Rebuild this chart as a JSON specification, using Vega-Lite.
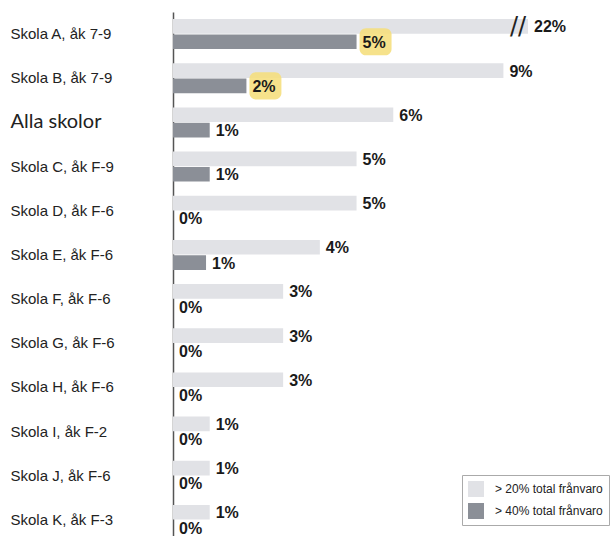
{
  "$schema": "https://vega.github.io/schema/vega-lite/v6.json",
  "autosize": "none",
  "width": 355,
  "height": 530,
  "padding": {"left": 173, "top": 12, "right": 82, "bottom": 0},
  "background": "white",
  "config": {"view": {"stroke": null}},
  "data": {
    "values": [
      {"skola": "Skola A, åk 7-9", "serie": "> 20% total frånvaro", "andel": 0.22},
      {"skola": "Skola A, åk 7-9", "serie": "> 40% total frånvaro", "andel": 0.05, "markerad": true},
      {"skola": "Skola B, åk 7-9", "serie": "> 20% total frånvaro", "andel": 0.09},
      {"skola": "Skola B, åk 7-9", "serie": "> 40% total frånvaro", "andel": 0.02, "markerad": true},
      {"skola": "Alla skolor", "serie": "> 20% total frånvaro", "andel": 0.06},
      {"skola": "Alla skolor", "serie": "> 40% total frånvaro", "andel": 0.01},
      {"skola": "Skola C, åk F-9", "serie": "> 20% total frånvaro", "andel": 0.05},
      {"skola": "Skola C, åk F-9", "serie": "> 40% total frånvaro", "andel": 0.01},
      {"skola": "Skola D, åk F-6", "serie": "> 20% total frånvaro", "andel": 0.05},
      {"skola": "Skola D, åk F-6", "serie": "> 40% total frånvaro", "andel": 0.0},
      {"skola": "Skola E, åk F-6", "serie": "> 20% total frånvaro", "andel": 0.04},
      {"skola": "Skola E, åk F-6", "serie": "> 40% total frånvaro", "andel": 0.009},
      {"skola": "Skola F, åk F-6", "serie": "> 20% total frånvaro", "andel": 0.03},
      {"skola": "Skola F, åk F-6", "serie": "> 40% total frånvaro", "andel": 0.0},
      {"skola": "Skola G, åk F-6", "serie": "> 20% total frånvaro", "andel": 0.03},
      {"skola": "Skola G, åk F-6", "serie": "> 40% total frånvaro", "andel": 0.0},
      {"skola": "Skola H, åk F-6", "serie": "> 20% total frånvaro", "andel": 0.03},
      {"skola": "Skola H, åk F-6", "serie": "> 40% total frånvaro", "andel": 0.0},
      {"skola": "Skola I, åk F-2", "serie": "> 20% total frånvaro", "andel": 0.01},
      {"skola": "Skola I, åk F-2", "serie": "> 40% total frånvaro", "andel": 0.0},
      {"skola": "Skola J, åk F-6", "serie": "> 20% total frånvaro", "andel": 0.01},
      {"skola": "Skola J, åk F-6", "serie": "> 40% total frånvaro", "andel": 0.0},
      {"skola": "Skola K, åk F-3", "serie": "> 20% total frånvaro", "andel": 0.01},
      {"skola": "Skola K, åk F-3", "serie": "> 40% total frånvaro", "andel": 0.0}
    ]
  },
  "encoding": {
    "y": {
      "field": "skola",
      "type": "nominal",
      "sort": null,
      "scale": {"paddingInner": 0.32, "paddingOuter": 0.16},
      "axis": {
        "title": null,
        "ticks": false,
        "grid": false,
        "domain": true,
        "domainColor": "#555555",
        "domainWidth": 1.5,
        "labelAlign": "left",
        "labelBaseline": "middle",
        "labelPadding": 163,
        "labelColor": "#222222",
        "labelLimit": 0,
        "labelFont": {"condition": {"test": "datum.value == 'Alla skolor'", "value": "Lato"}, "value": "Liberation Sans"},
        "labelFontSize": {"condition": {"test": "datum.value == 'Alla skolor'", "value": 20}, "value": 15}
      }
    },
    "yOffset": {"field": "serie", "type": "nominal", "sort": null, "scale": {"paddingInner": 0.04}},
    "x": {
      "field": "andel",
      "type": "quantitative",
      "scale": {"domain": [0, 0.0967], "clamp": true, "nice": false, "zero": true},
      "axis": null
    }
  },
  "layer": [
    {
      "mark": {"type": "bar"},
      "encoding": {
        "color": {
          "field": "serie",
          "type": "nominal",
          "scale": {"domain": ["> 20% total frånvaro", "> 40% total frånvaro"], "range": ["#e1e2e6", "#8b8f97"]},
          "legend": {
            "title": null,
            "orient": "none",
            "legendX": 289,
            "legendY": 463,
            "symbolType": "square",
            "symbolSize": 256,
            "symbolStrokeWidth": 0,
            "labelFont": "Liberation Sans",
            "labelFontSize": 12,
            "labelColor": "#222222",
            "labelOffset": 11,
            "labelLimit": 0,
            "rowPadding": 6,
            "padding": 6,
            "strokeColor": "#aaaaaa",
            "fillColor": "white"
          }
        }
      }
    },
    {
      "transform": [{"filter": "datum.markerad == true"}],
      "mark": {
        "type": "point",
        "filled": true,
        "color": "#f5df7e",
        "opacity": 0.9,
        "size": 1024,
        "xOffset": 19,
        "shape": "M -0.6 -0.85 L 0.6 -0.85 A 0.4 0.4 0 0 1 1 -0.45 L 1 0.45 A 0.4 0.4 0 0 1 0.6 0.85 L -0.6 0.85 A 0.4 0.4 0 0 1 -1 0.45 L -1 -0.45 A 0.4 0.4 0 0 1 -0.6 -0.85 Z"
      }
    },
    {
      "mark": {
        "type": "text",
        "align": "left",
        "baseline": "middle",
        "dx": 6,
        "dy": 1,
        "font": "Liberation Sans",
        "fontSize": 16,
        "fontWeight": "bold",
        "color": "#1a1a1a"
      },
      "encoding": {
        "text": {"field": "andel", "type": "quantitative", "format": ".0%"}
      }
    },
    {
      "transform": [{"filter": "datum.andel > 0.0967"}],
      "mark": {
        "type": "text",
        "text": "//",
        "align": "center",
        "baseline": "middle",
        "dx": -10,
        "dy": 1,
        "font": "DejaVu Sans",
        "fontSize": 24,
        "color": "#222222"
      }
    }
  ]
}
